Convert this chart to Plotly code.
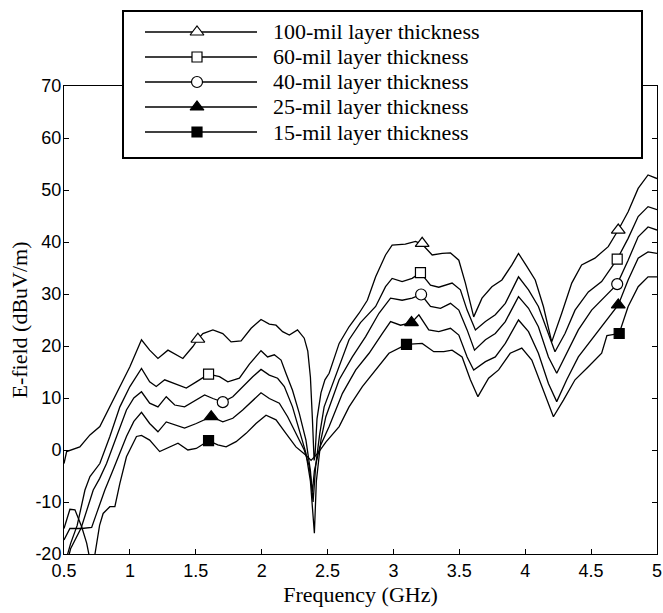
import plotly.graph_objects as go

# ---------------- data ----------------
series_names = ["100-mil layer thickness", "60-mil layer thickness", "40-mil layer thickness",
                "25-mil layer thickness", "15-mil layer thickness"]

f100 = [0.5, 0.52, 0.62, 0.697, 0.772, 0.848, 0.924, 1.0, 1.088, 1.15, 1.213, 1.289, 1.402, 1.478, 1.516,
        1.554, 1.63, 1.705, 1.768, 1.844, 1.92, 1.995, 2.058, 2.109, 2.159, 2.21, 2.272, 2.323, 2.35, 2.37,
        2.385, 2.398, 2.405, 2.42, 2.45, 2.48, 2.512, 2.588, 2.663, 2.739, 2.802, 2.865, 2.94, 2.99, 3.09,
        3.168, 3.22, 3.294, 3.37, 3.433, 3.496, 3.546, 3.609, 3.672, 3.747, 3.823, 3.899, 3.949, 4.012,
        4.076, 4.138, 4.201, 4.277, 4.353, 4.428, 4.529, 4.63, 4.706, 4.781, 4.857, 4.932, 5.0]
e100 = [-2.6, -0.3, 0.6, 2.9, 4.5, 8.3, 12.2, 16.0, 21.2, 19.2, 17.6, 19.2, 17.6, 19.9, 21.3,
        22.4, 23.1, 22.4, 20.8, 21.0, 23.4, 25.1, 24.2, 24.0, 22.75, 22.1, 23.1, 21.5, 19.0, 14.0,
        6.0, -2.0, -1.0, 6.0, 11.0, 13.5, 14.75, 20.5, 23.7, 26.3, 28.8, 33.3, 37.5, 39.4, 39.6,
        40.1, 39.5, 37.5, 37.8, 37.9, 36.5, 32.1, 25.6, 29.2, 31.4, 32.7, 35.6, 37.8, 35.3,
        32.7, 27.6, 20.8, 26.3, 32.1, 35.6, 36.9, 39.1, 42.3, 45.8, 50.3, 52.9, 52.2]

f60 = [0.5, 0.55, 0.6, 0.659, 0.697, 0.772, 0.848, 0.924, 1.0, 1.088, 1.15, 1.2, 1.264, 1.365, 1.428,
       1.504, 1.597, 1.68, 1.743, 1.831, 1.907, 1.995, 2.045, 2.096, 2.147, 2.184, 2.234, 2.285, 2.336,
       2.37, 2.39, 2.41, 2.44, 2.474, 2.563, 2.663, 2.75, 2.865, 2.94, 2.99, 3.066, 3.142, 3.205, 3.281,
       3.344, 3.445, 3.508, 3.559, 3.622, 3.698, 3.773, 3.849, 3.949, 4.025, 4.1, 4.176, 4.226, 4.302,
       4.378, 4.479, 4.58, 4.698, 4.781, 4.857, 4.932, 5.0]
e60 = [-22.5, -18.0, -14.5, -7.7, -5.1, -2.6, 2.6, 8.3, 12.2, 15.7, 13.1, 12.2, 13.5, 12.5, 11.9,
       13.1, 14.6, 14.1, 13.1, 13.8, 16.5, 19.1, 17.9, 18.3, 17.3, 14.75, 11.5, 7.1, 1.9,
       -4.0, -10.0, -3.0, 3.0, 8.3, 14.5, 21.2, 24.5, 27.6, 31.4, 33.0, 32.4, 33.0, 34.1, 31.7,
       31.3, 32.1, 30.8, 26.9, 23.1, 24.7, 26.0, 28.2, 33.3, 30.8, 27.6, 22.4, 18.9, 22.4,
       26.9, 30.4, 32.4, 36.7, 40.7, 44.9, 46.8, 46.2]

f40 = [0.5, 0.55, 0.63, 0.68, 0.722, 0.77, 0.823, 0.899, 0.974, 1.03, 1.088, 1.15, 1.213, 1.276, 1.34,
       1.415, 1.504, 1.567, 1.63, 1.705, 1.781, 1.856, 1.932, 1.995, 2.058, 2.121, 2.172, 2.234, 2.285,
       2.336, 2.37, 2.385, 2.40, 2.415, 2.45, 2.487, 2.588, 2.688, 2.789, 2.89, 2.978, 3.066, 3.142, 3.21,
       3.281, 3.357, 3.433, 3.496, 3.559, 3.615, 3.698, 3.773, 3.849, 3.949, 4.025, 4.1, 4.176, 4.239,
       4.315, 4.403, 4.504, 4.605, 4.698, 4.781, 4.857, 4.932, 5.0]
e40 = [-24.0, -19.0, -15.0, -11.0, -7.7, -5.5, -2.6, 2.6, 7.7, 10.0, 11.2, 9.0, 8.3, 10.25, 8.65,
       8.3, 9.6, 10.6, 9.9, 9.2, 10.25, 12.2, 14.1, 15.5, 14.4, 13.8, 12.2, 8.3, 3.8,
       -0.6, -6.0, -11.0, -16.0, -6.0, 2.0, 6.4, 13.5, 17.9, 21.8, 26.3, 29.2, 28.8, 29.2, 29.9,
       27.6, 27.25, 28.2, 26.9, 23.1, 19.2, 21.2, 22.4, 24.7, 29.5, 27.25, 23.7, 17.9, 14.75,
       18.6, 23.1, 26.9, 29.5, 31.9, 36.5, 41.0, 42.9, 42.3]

f25 = [0.5, 0.545, 0.634, 0.71, 0.75, 0.81, 0.873, 0.93, 0.974, 1.03, 1.088, 1.15, 1.213, 1.276, 1.34,
       1.415, 1.504, 1.617, 1.705, 1.781, 1.856, 1.932, 1.995, 2.058, 2.134, 2.197, 2.26, 2.323, 2.36,
       2.385, 2.40, 2.44, 2.512, 2.613, 2.714, 2.815, 2.915, 2.978, 3.054, 3.137, 3.193, 3.268, 3.344,
       3.433, 3.496, 3.559, 3.609, 3.698, 3.773, 3.849, 3.949, 4.025, 4.1, 4.176, 4.239, 4.315, 4.403,
       4.504, 4.605, 4.706, 4.781, 4.857, 4.932, 5.0]
e25 = [-17.3, -15.1, -15.1, -14.9, -12.0, -7.7, -3.8, 0.0, 2.6, 5.5, 7.25, 5.1, 3.5, 5.4, 4.8,
       4.2, 5.1, 6.4, 5.4, 6.1, 7.7, 9.6, 11.0, 9.9, 9.0, 6.4, 3.2, 0.0, -3.0,
       -8.0, -4.0, 0.5, 4.5, 10.9, 15.4, 18.6, 22.4, 24.7, 24.0, 24.5, 26.0, 23.1, 22.75,
       23.4, 22.1, 17.9, 15.4, 17.0, 17.9, 20.5, 25.0, 22.75, 18.6, 12.8, 9.3, 13.5, 17.9,
       21.2, 24.7, 27.9, 32.7, 36.9, 38.1, 37.8]

f15 = [0.5, 0.545, 0.583, 0.634, 0.672, 0.69, 0.712, 0.735, 0.77, 0.797, 0.848, 0.886, 0.924, 0.974,
       1.05, 1.088, 1.15, 1.226, 1.302, 1.365, 1.44, 1.504, 1.597, 1.667, 1.73, 1.806, 1.882, 1.957,
       2.033, 2.109, 2.184, 2.26, 2.336, 2.375, 2.43, 2.487, 2.588, 2.663, 2.764, 2.865, 2.966, 3.099,
       3.218, 3.306, 3.382, 3.445, 3.521, 3.584, 3.641, 3.722, 3.798, 3.886, 3.974, 4.05, 4.126, 4.214,
       4.29, 4.378, 4.479, 4.58, 4.62, 4.713, 4.781, 4.857, 4.932, 5.0]
e15 = [-15.1, -11.4, -11.5, -14.75, -17.9, -20.0, -23.0, -20.0, -14.5, -12.2, -10.9, -10.9, -6.4, -1.3,
       2.6, 2.8, 1.9, -0.3, 0.6, 1.3, 0.0, 0.3, 1.8, 1.0, 0.6, 1.6, 3.2, 5.1,
       6.7, 5.8, 3.2, 0.6, -1.0, -2.0, -0.5, 1.5, 4.5, 8.3, 12.2, 15.4, 18.6, 20.3,
       20.5, 18.9, 18.9, 19.2, 17.9, 13.5, 10.25, 13.8, 15.4, 18.6, 19.6, 17.3, 12.2, 6.4,
       9.6, 13.5, 16.0, 18.6, 22.0, 22.4, 27.6, 31.4, 33.3, 33.3]

# marker positions (sparse symbols on each curve)
mk100_f = [1.516, 3.218, 4.706]; mk100_e = [21.3, 39.75, 42.3]
mk60_f = [1.597, 3.205, 4.698];  mk60_e = [14.6, 34.1, 36.7]
mk40_f = [1.705, 3.21, 4.698];   mk40_e = [9.2, 29.9, 31.9]
mk25_f = [1.617, 3.137, 4.706];  mk25_e = [6.4, 24.5, 27.9]
mk15_f = [1.597, 3.099, 4.713];  mk15_e = [1.8, 20.3, 22.4]

x_ticks = [0.5, 1, 1.5, 2, 2.5, 3, 3.5, 4, 4.5, 5]
x_ticklabels = ["0.5", "1", "1.5", "2", "2.5", "3", "3.5", "4", "4.5", "5"]
y_ticks = [-20, -10, 0, 10, 20, 30, 40, 50, 60, 70]
y_ticklabels = ["-20", "-10", "0", "10", "20", "30", "40", "50", "60", "70"]

# ---------------- styling ----------------
W, H = 663, 613
curves = [(f100, e100), (f60, e60), (f40, e40), (f25, e25), (f15, e15)]
markers = [(mk100_f, mk100_e), (mk60_f, mk60_e), (mk40_f, mk40_e), (mk25_f, mk25_e), (mk15_f, mk15_e)]
symbols = ["triangle-up", "square", "circle", "triangle-up", "square"]
fills = ["white", "white", "white", "black", "black"]
sizes = [12, 10, 11, 12, 10]

# pixel layout
plot_l, plot_r, plot_t, plot_b = 64, 657, 86, 554
leg_l, leg_r, leg_t, leg_b = 124, 641, 12, 157

fig = go.Figure()
for (fx, fy) in curves:
    fig.add_trace(go.Scatter(x=fx, y=fy, mode="lines", line=dict(color="black", width=1.3),
                             showlegend=False, hoverinfo="skip"))
for (mx, my), sym, fc, sz in zip(markers, symbols, fills, sizes):
    fig.add_trace(go.Scatter(x=mx, y=my, mode="markers",
                             marker=dict(symbol=sym, size=sz, color=fc, line=dict(color="black", width=1.2)),
                             showlegend=False, hoverinfo="skip"))

# custom legend drawn in its own small subplot (x2/y2), in pixel-like units
leg_w, leg_h = leg_r - leg_l, leg_b - leg_t
row_y = [20, 45, 70, 95, 120]
for name, ry, sym, fc, sz in zip(series_names, row_y, symbols, fills, sizes):
    fig.add_trace(go.Scatter(x=[21, 73, 133], y=[ry, ry, ry], mode="lines+markers", xaxis="x2", yaxis="y2",
                             line=dict(color="black", width=1.3),
                             marker=dict(symbol=sym, size=sz, color=fc, opacity=[0, 1, 0],
                                         line=dict(color="black", width=1.2)),
                             showlegend=False, hoverinfo="skip"))
    fig.add_annotation(x=147, y=ry, xref="x2", yref="y2", text=name, showarrow=False,
                       xanchor="left", yanchor="middle",
                       font=dict(family="Liberation Serif, Times New Roman, serif", size=22, color="black"))

axis_font = dict(family="Liberation Sans, Arial, Helvetica, sans-serif", size=18, color="black")
title_font = dict(family="Liberation Serif, Times New Roman, serif", size=22, color="black")

fig.update_layout(
    width=W, height=H,
    margin=dict(l=0, r=0, t=0, b=0, autoexpand=False),
    paper_bgcolor="white", plot_bgcolor="white",
    showlegend=False,
    xaxis=dict(domain=[plot_l / W, plot_r / W], range=[0.5, 5], tickvals=x_ticks, ticktext=x_ticklabels,
               ticks="inside", ticklen=5, tickcolor="black", showline=True, linecolor="black", linewidth=1,
               mirror="allticks", showgrid=False, zeroline=False, tickfont=axis_font,
               ticklabeloverflow="allow",
               title=dict(text="Frequency (GHz)", font=title_font, standoff=7), automargin=False),
    yaxis=dict(domain=[1 - plot_b / H, 1 - plot_t / H], range=[-20, 70], tickvals=y_ticks,
               ticktext=y_ticklabels, ticklabelstandoff=-2,
               ticks="inside", ticklen=5, tickcolor="black", showline=True, linecolor="black", linewidth=1,
               mirror="allticks", showgrid=False, zeroline=False, tickfont=axis_font,
               title=dict(text="E-field (dBuV/m)", font=title_font, standoff=1), automargin=False),
    xaxis2=dict(domain=[leg_l / W, leg_r / W], range=[0, leg_w], anchor="y2", showgrid=False,
                zeroline=False, showticklabels=False, ticks="", showline=True, mirror=True,
                linecolor="black", linewidth=1.5, fixedrange=True),
    yaxis2=dict(domain=[1 - leg_b / H, 1 - leg_t / H], range=[leg_h, 0], anchor="x2", showgrid=False,
                zeroline=False, showticklabels=False, ticks="", showline=True, mirror=True,
                linecolor="black", linewidth=1.5, fixedrange=True),
)

fig.write_html("out.html", config={"displayModeBar": False},
               post_script="document.body.style.margin='0';document.body.style.overflow='hidden';")
